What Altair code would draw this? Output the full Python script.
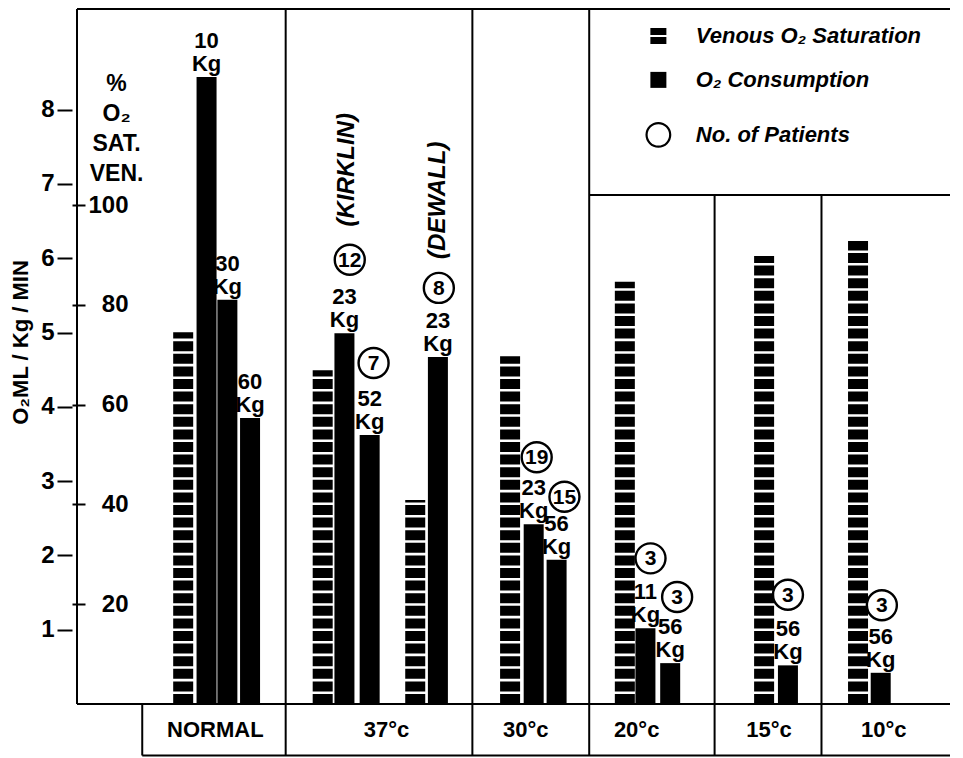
import altair as alt
import pandas as pd

# ---------------- data ----------------
groups = ["NORMAL", "37°c", "30°c", "20°c", "15°c", "10°c"]
group_center = [5.98, 13.38, 19.40, 24.19, 29.91, 34.87]          # slot units

# venous O2 saturation (%), striped bars
ven_pos = [4.59, 10.62, 14.62, 18.72, 23.68, 29.70, 33.76]
ven_sat = [74.5, 66.9, 40.9, 69.7, 84.6, 89.8, 92.8]

# O2 consumption (ml/kg/min), solid bars
o2_pos = [5.60, 6.50, 7.48, 11.56, 12.65, 15.60, 19.74, 20.73, 24.57, 25.64, 30.73, 34.74]
o2_val = [8.44, 5.44, 3.85, 4.99, 3.62, 4.67, 2.42, 1.94, 1.02, 0.55, 0.52, 0.42]
o2_wt = ["10", "30", "60", "23", "52", "23", "23", "56", "11", "56", "56", "56"]

# number of patients (circled)
pat_n = ["12", "7", "8", "19", "15", "3", "3", "3", "3"]
pat_x = [11.79, 12.82, 15.64, 19.87, 21.07, 24.79, 25.94, 30.73, 34.79]
pat_y = [5.98, 4.59, 5.60, 3.32, 2.79, 1.96, 1.44, 1.47, 1.33]

# study names
study = ["(KIRKLIN)", "(DEWALL)"]
study_x = [11.67, 15.60]
study_y = [7.19, 6.78]

o2_ticks = [1, 2, 3, 4, 5, 6, 7, 8]
sat_ticks = [20, 40, 60, 80, 100]

leg_labels = ["Venous O₂ Saturation", "O₂ Consumption", "No. of Patients"]
leg_y = [8.99, 8.40, 7.66]

# ---------------- layout constants ----------------
FONT = "Liberation Sans"
W, H = 883, 749
Y0 = 696            # pixel row of zero inside plot
PX_O2 = 74.3        # px per ml/kg/min
PX_SAT = 4.99       # px per % saturation
PX_SLOT = 23.4      # px per horizontal slot

o2_dom = [-(H - Y0) / PX_O2, Y0 / PX_O2]
sat_dom = [-(H - Y0) / PX_SAT, Y0 / PX_SAT]
x_dom = [0, W / PX_SLOT]
X_END = x_dom[1]
TOP = o2_dom[1] - 1.0 / PX_O2
BOT = o2_dom[0] + 1.5 / PX_O2
LEG_LINE = 6.85
BOX_LEFT = 2.82
full_panels = [9.02, 17.09, 22.14]
short_panels = [27.56, 32.18]

XS = alt.Scale(domain=x_dom, nice=False, zero=False)
YS = alt.Scale(domain=o2_dom, nice=False, zero=False)
SS = alt.Scale(domain=sat_dom, nice=False, zero=False)


def X(f):
    return alt.X(f, type="quantitative", scale=XS, axis=None)


def Y(f, axis=None):
    return alt.Y(f, type="quantitative", scale=YS, axis=axis)


# ---------------- structure lines ----------------
rows = [
    (0, X_END, TOP, TOP),
    (0, 0, 0, TOP),
    (0, X_END, 0, 0),
    (BOX_LEFT, X_END, BOT, BOT),
    (BOX_LEFT, BOX_LEFT, BOT, 0),
    (full_panels[2], X_END, LEG_LINE, LEG_LINE),
]
rows += [(p, p, BOT, TOP) for p in full_panels]
rows += [(p, p, BOT, LEG_LINE) for p in short_panels]
lines_df = pd.DataFrame(rows, columns=["x", "x2", "y", "y2"])
lines = alt.Chart(lines_df).mark_rule(color="black", strokeWidth=2).encode(
    x=X("x"), x2="x2", y=Y("y"), y2="y2"
)

# ---------------- venous saturation (striped) ----------------
ven_df = pd.DataFrame({"x": ven_pos, "sat": ven_sat, "base": 0.0})
ven = alt.Chart(ven_df).mark_rule(
    color="black", strokeWidth=20, strokeDash=[10, 2.6], strokeCap="butt"
).encode(
    x=X("x"),
    y=alt.Y("base", type="quantitative", scale=SS,
            axis=alt.Axis(values=sat_ticks, orient="right", offset=-W, domain=False,
                          grid=False, tickSize=13, tickWidth=2, tickColor="black",
                          labelAlign="right", labelPadding=43, labelFontSize=24,
                          labelFont=FONT, labelFontWeight="bold", labelColor="black",
                          title=None)),
    y2="sat",
)

# ---------------- O2 consumption bars ----------------
o2_df = pd.DataFrame({"x": o2_pos, "v": o2_val, "wt": o2_wt, "unit": ["Kg"] * len(o2_wt), "base": 0.0})
left_axis = alt.Axis(values=o2_ticks, orient="left", domain=False, grid=False,
                     tickSize=15, tickWidth=2, tickColor="black", labelPadding=3,
                     labelFontSize=24, labelFont=FONT, labelFontWeight="bold",
                     labelColor="black", format="d",
                     title="O₂ML / Kg / MIN", titleFont=FONT, titleFontSize=22,
                     titleFontWeight="bold", titleColor="black", titleAngle=270,
                     titleX=-52, titleY=334, titleAlign="center", titleBaseline="middle")
bars = alt.Chart(o2_df).mark_bar(color="black", size=20).encode(
    x=X("x"), y=Y("v", axis=left_axis), y2="base"
)
kg_unit = alt.Chart(o2_df).mark_text(
    font=FONT, fontSize=22, fontWeight="bold", baseline="bottom", dy=-1, color="black"
).encode(x=X("x"), y=Y("v"), text="unit")
kg_num = alt.Chart(o2_df).mark_text(
    font=FONT, fontSize=22, fontWeight="bold", baseline="bottom", dy=-24, color="black"
).encode(x=X("x"), y=Y("v"), text="wt")

# ---------------- circled patient numbers ----------------
pat_df = pd.DataFrame({"x": pat_x, "y": pat_y, "n": pat_n})
circ = alt.Chart(pat_df).mark_point(
    shape="circle", size=900, filled=False, color="black", strokeWidth=2.4, opacity=1
).encode(x=X("x"), y=Y("y"))
circ_t = alt.Chart(pat_df).mark_text(
    font=FONT, fontSize=21, fontWeight="bold", color="black", baseline="middle", dy=1
).encode(x=X("x"), y=Y("y"), text="n")

# ---------------- study names ----------------
st_df = pd.DataFrame({"x": study_x, "y": study_y, "t": study})
st = alt.Chart(st_df).mark_text(
    font=FONT, fontSize=24, fontWeight="bold", fontStyle="italic", angle=270,
    baseline="middle", align="center", color="black"
).encode(x=X("x"), y=Y("y"), text="t")

# ---------------- saturation title ----------------
sat_title_df = pd.DataFrame({"x": [1.71], "y": [8.49], "t": ["%\nO₂\nSAT.\nVEN."]})
sat_title = alt.Chart(sat_title_df).mark_text(
    font=FONT, fontSize=23, fontWeight="bold", baseline="top", align="center",
    lineBreak="\n", lineHeight=30, color="black"
).encode(x=X("x"), y=Y("y"), text="t")

# ---------------- category labels ----------------
cat_df = pd.DataFrame({"x": group_center, "y": [-0.35] * len(groups), "t": groups})
cats = alt.Chart(cat_df).mark_text(
    font=FONT, fontSize=22, fontWeight="bold", baseline="middle", align="center", color="black"
).encode(x=X("x"), y=Y("y"), text="t")

# ---------------- legend ----------------
VEN_ICON = "M-1,-1H1V-0.12H-1Z M-1,0.12H1V1H-1Z"
leg_df = pd.DataFrame({
    "x": [25.13] * 3, "tx": [26.75] * 3, "y": leg_y, "t": leg_labels,
    "shape": [VEN_ICON, "square", "circle"],
    "fill": ["black", "black", "white"],
    "size": [256, 256, 560],
    "sw": [0, 0, 2.2],
})
leg_icons = alt.Chart(leg_df).mark_point(opacity=1, stroke="black").encode(
    x=X("x"), y=Y("y"),
    shape=alt.Shape("shape:N", scale=None),
    fill=alt.Fill("fill:N", scale=None),
    size=alt.Size("size:Q", scale=None),
    strokeWidth=alt.StrokeWidth("sw:Q", scale=None),
)
leg_text = alt.Chart(leg_df).mark_text(
    font=FONT, fontSize=22, fontWeight="bold", fontStyle="italic", align="left",
    baseline="middle", color="black"
).encode(x=X("tx"), y=Y("y"), text="t")

chart = alt.layer(
    lines, ven, bars, kg_unit, kg_num, circ, circ_t, st, sat_title, cats, leg_icons, leg_text
).resolve_scale(y="independent").properties(
    width=W, height=H,
    padding={"left": 64, "top": 0, "right": 0, "bottom": 0},
    autosize=alt.AutoSizeParams(type="none"),
    background="white",
).configure_view(stroke=None)

chart.save("out.html", embed_options={"renderer": "svg", "actions": False})
